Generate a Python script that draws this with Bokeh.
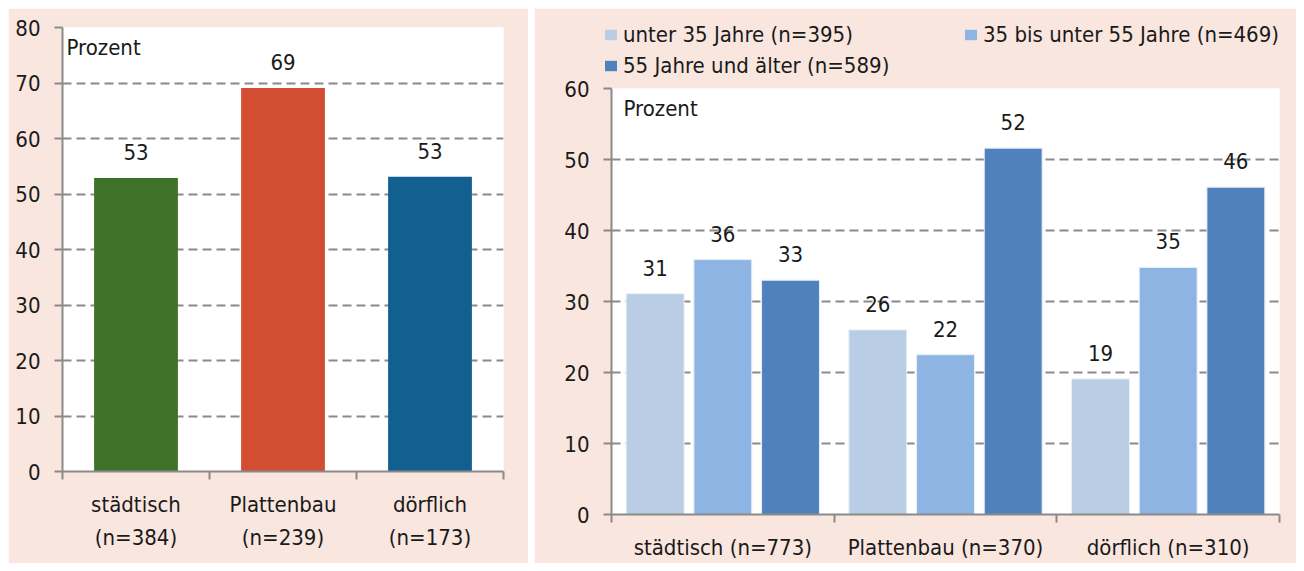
from bokeh.plotting import figure
from bokeh.models import Range1d, FixedTicker, Label, Legend, LegendItem, ColumnDataSource
from bokeh.embed import file_html
from bokeh.resources import INLINE
from bokeh.core.properties import value

# ---------------- data ----------------
categories_left = ["städtisch", "Plattenbau", "dörflich"]
n_left = [384, 239, 173]
values_left = [52.9, 69.1, 53.1]
colors_left = ["#3e7229", "#d34d33", "#11608f"]
y_ticks_left = [0, 10, 20, 30, 40, 50, 60, 70, 80]

categories_right = ["städtisch", "Plattenbau", "dörflich"]
n_right = [773, 370, 310]
series_names = ["unter 35 Jahre", "35 bis unter 55 Jahre", "55 Jahre und älter"]
series_n = [395, 469, 589]
series_under35 = [31.1, 26.0, 19.1]
series_35to55 = [35.9, 22.5, 34.8]
series_55plus = [33.0, 51.6, 46.1]
series_colors = ["#b9cde5", "#8eb4e3", "#4f81bd"]
y_ticks_right = [0, 10, 20, 30, 40, 50, 60]
unit_label = "Prozent"

# ---------------- style ----------------
FONT = "DejaVu Sans Condensed"
FS = "22px"
TXT = "#1a1a1a"
GRAY = "#8a8a8a"
PINK = "#f9e6df"
LAB_OFF = -26


def style(p, yticks, nc, xlabels):
    p.outline_line_color = None
    p.background_fill_color = "white"
    p.border_fill_color = PINK
    p.xgrid.grid_line_color = None
    p.ygrid.grid_line_color = GRAY
    p.ygrid.grid_line_width = 2
    p.ygrid.grid_line_dash = "9 5"
    p.ygrid.ticker = FixedTicker(ticks=yticks)
    ya = p.yaxis[0]
    ya.ticker = FixedTicker(ticks=yticks)
    ya.axis_line_color = GRAY
    ya.axis_line_width = 2
    ya.major_tick_line_color = GRAY
    ya.major_tick_line_width = 2
    ya.major_tick_out = 8
    ya.major_tick_in = 0
    ya.minor_tick_line_color = None
    ya.major_label_standoff = 14
    ya.major_label_text_font = FONT
    ya.major_label_text_font_size = FS
    ya.major_label_text_color = TXT
    xa = p.xaxis[0]
    centers = [i + 0.5 for i in range(nc)]
    xa.ticker = FixedTicker(ticks=centers, minor_ticks=list(range(nc + 1)))
    xa.major_label_overrides = {c: lab for c, lab in zip(centers, xlabels)}
    xa.axis_line_color = GRAY
    xa.axis_line_width = 2
    xa.major_tick_line_color = None
    xa.minor_tick_line_color = GRAY
    xa.minor_tick_line_width = 2
    xa.minor_tick_out = 8
    xa.minor_tick_in = 0
    xa.major_label_standoff = 12
    xa.major_label_text_font = FONT
    xa.major_label_text_font_size = FS
    xa.major_label_text_color = TXT
    xa.major_label_text_line_height = 1.32


# ---------------- left chart ----------------
nL = len(categories_left)
p1 = figure(width=520, height=555, output_backend="svg", toolbar_location=None,
            x_range=Range1d(0, nL), y_range=Range1d(0, y_ticks_left[-1]),
            min_border_left=54, min_border_right=25, min_border_top=19, min_border_bottom=92,
            styles={"position": "absolute", "left": "8px", "top": "8px"})
xl = [i + 0.5 for i in range(nL)]
srcL = ColumnDataSource(dict(x=xl, top=values_left, color=colors_left,
                             lab=[str(round(v)) for v in values_left]))
p1.vbar(x="x", top="top", bottom=0, width=0.57, source=srcL, fill_color="color", line_color=None)
p1.text(x="x", y="top", text="lab", source=srcL, text_font=value(FONT), text_font_size=FS,
        text_color=TXT, text_align="center", text_baseline="alphabetic", y_offset=LAB_OFF)
style(p1, y_ticks_left, nL, [f"{c}\n(n={n})" for c, n in zip(categories_left, n_left)])
p1.add_layout(Label(x=0, y=y_ticks_left[-1], x_offset=4, y_offset=-7, text=unit_label,
                    text_font=FONT, text_font_size=FS, text_color=TXT, text_baseline="top"))

# ---------------- right chart ----------------
nR = len(categories_right)
p2 = figure(width=762, height=555, output_backend="svg", toolbar_location=None,
            x_range=Range1d(0, nR), y_range=Range1d(0, y_ticks_right[-1]),
            min_border_left=77, min_border_right=17, min_border_top=80, min_border_bottom=49,
            styles={"position": "absolute", "left": "534px", "top": "8px"})
offsets = [-0.304, 0.0, 0.304]
all_series = [series_under35, series_35to55, series_55plus]
sources = []
for k, vals in enumerate(all_series):
    src = ColumnDataSource(dict(x=[i + 0.5 + offsets[k] for i in range(nR)], top=vals,
                                lab=[str(round(v)) for v in vals]))
    sources.append(src)
    p2.vbar(x="x", top="top", bottom=0, width=0.26, source=src,
            fill_color=series_colors[k], line_color="#e8eef6", line_width=1)
    p2.text(x="x", y="top", text="lab", source=src, text_font=value(FONT), text_font_size=FS,
            text_color=TXT, text_align="center", text_baseline="alphabetic", y_offset=LAB_OFF)
style(p2, y_ticks_right, nR, [f"{c} (n={n})" for c, n in zip(categories_right, n_right)])
p2.add_layout(Label(x=0, y=y_ticks_right[-1], x_offset=12, y_offset=-7, text=unit_label,
                    text_font=FONT, text_font_size=FS, text_color=TXT, text_baseline="top"))

# ---------------- legend (transparent overlay above right chart) ----------------
labels = [f"{s} (n={n})" for s, n in zip(series_names, series_n)]
p3 = figure(width=762, height=78, output_backend="svg", toolbar_location=None,
            x_range=Range1d(0, 1), y_range=Range1d(0, 1),
            x_axis_location=None, y_axis_location=None,
            min_border=0, min_border_left=0, min_border_right=0, min_border_top=0, min_border_bottom=0,
            styles={"position": "absolute", "left": "534px", "top": "8px"})
p3.outline_line_color = None
p3.background_fill_alpha = 0
p3.border_fill_alpha = 0
p3.grid.grid_line_color = None
leg_r = []
for k in range(3):
    leg_r.append(p3.vbar(x="x", top="top", width=0.1, source=sources[k],
                         fill_color=series_colors[k], line_color=None, visible=False))


def mk_legend(items, loc):
    return Legend(items=items, location=loc, orientation="vertical",
                  label_text_font=FONT, label_text_font_size=FS, label_text_color=TXT,
                  glyph_width=15, glyph_height=13, label_standoff=5, padding=0, margin=0,
                  spacing=3, label_height=28, border_line_color=None, background_fill_alpha=0,
                  inactive_fill_alpha=0)


leg1 = mk_legend([LegendItem(label=labels[0], renderers=[leg_r[0]]),
                  LegendItem(label=labels[2], renderers=[leg_r[2]])], (69, 7))
leg2 = mk_legend([LegendItem(label=labels[1], renderers=[leg_r[1]])], (429, 38))
p3.add_layout(leg1)
p3.add_layout(leg2)

open("out.html", "w").write(file_html([p1, p2, p3], INLINE))
